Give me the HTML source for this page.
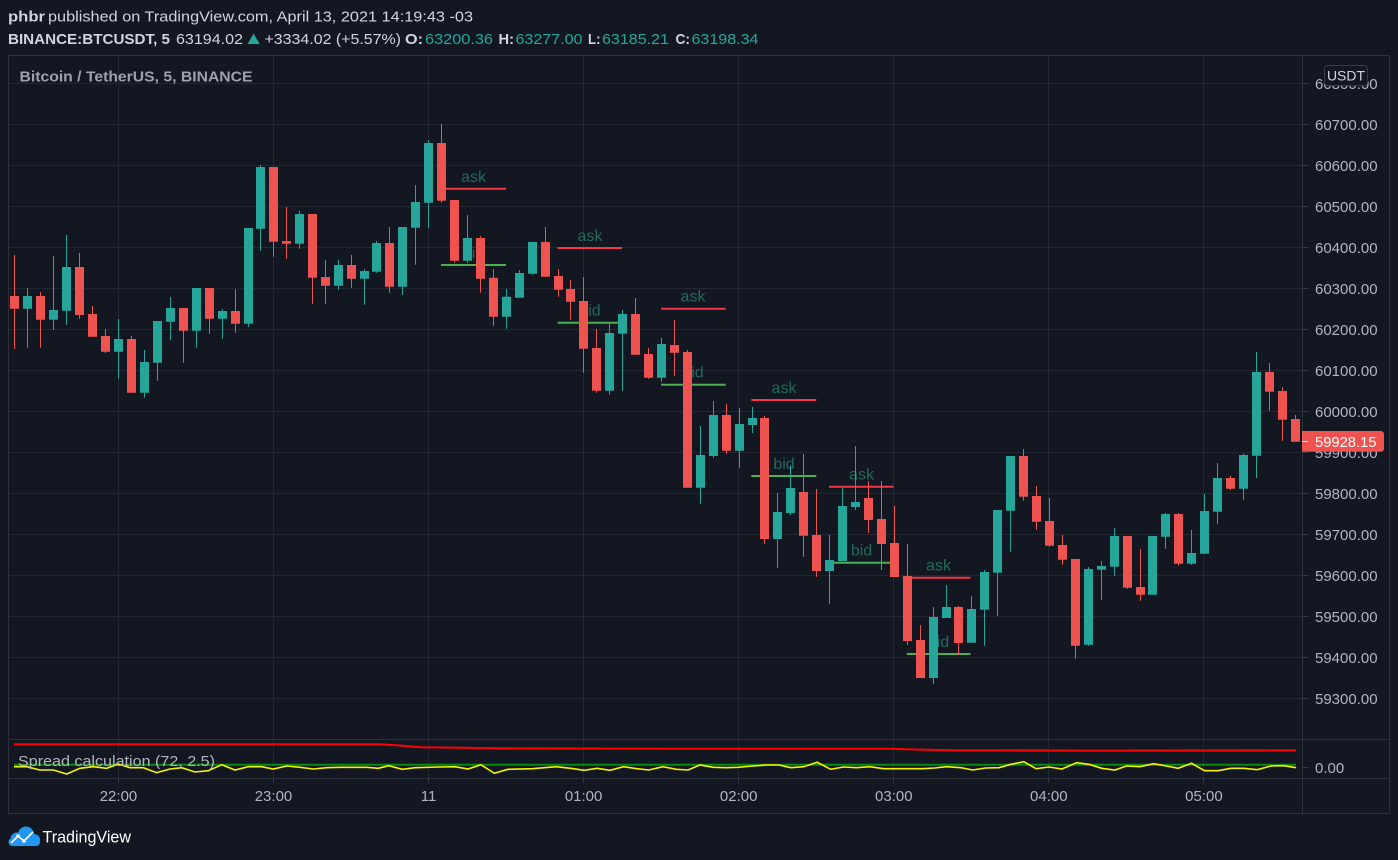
<!DOCTYPE html>
<html><head><meta charset="utf-8"><style>
html,body{margin:0;padding:0;background:#131722;}
svg{display:block;}
text{font-family:"Liberation Sans",sans-serif;}
</style></head><body>
<svg width="1398" height="860" viewBox="0 0 1398 860" xmlns="http://www.w3.org/2000/svg">
<rect x="0" y="0" width="1398" height="860" fill="#131722"/>

<!-- header -->
<g font-size="15" fill="#d1d4dc">
<text x="8" y="21.5" font-weight="bold" textLength="37" lengthAdjust="spacingAndGlyphs">phbr</text>
<text x="48" y="21.5" textLength="425" lengthAdjust="spacingAndGlyphs">published on TradingView.com, April 13, 2021 14:19:43 -03</text>
<text x="8" y="44" font-weight="bold" textLength="162" lengthAdjust="spacingAndGlyphs">BINANCE:BTCUSDT, 5</text>
<text x="176" y="44" textLength="67" lengthAdjust="spacingAndGlyphs">63194.02</text>
<text x="264.5" y="44" textLength="136.5" lengthAdjust="spacingAndGlyphs">+3334.02 (+5.57%)</text>
<text x="405" y="44" font-weight="bold" textLength="18" lengthAdjust="spacingAndGlyphs">O:</text>
<text x="498.5" y="44" font-weight="bold" textLength="15.5" lengthAdjust="spacingAndGlyphs">H:</text>
<text x="588" y="44" font-weight="bold" textLength="12.5" lengthAdjust="spacingAndGlyphs">L:</text>
<text x="675.5" y="44" font-weight="bold" textLength="14.5" lengthAdjust="spacingAndGlyphs">C:</text>
</g>
<g font-size="15" fill="#26a69a">
<text x="425" y="44" textLength="68" lengthAdjust="spacingAndGlyphs">63200.36</text>
<text x="515.5" y="44" textLength="67" lengthAdjust="spacingAndGlyphs">63277.00</text>
<text x="602" y="44" textLength="67" lengthAdjust="spacingAndGlyphs">63185.21</text>
<text x="691.5" y="44" textLength="67" lengthAdjust="spacingAndGlyphs">63198.34</text>
</g>
<polygon points="247.5,44 259.7,44 253.6,33.5" fill="#26a69a"/>

<!-- grid -->
<g stroke="#232733" stroke-width="1">
<path d="M8 83.5H1302M8 124.5H1302M8 165.5H1302M8 206.5H1302M8 247.5H1302M8 288.5H1302M8 329.5H1302M8 370.5H1302M8 411.5H1302M8 452.5H1302M8 493.5H1302M8 534.5H1302M8 575.5H1302M8 616.5H1302M8 657.5H1302M8 698.5H1302"/>
<path d="M118.5 55V778M273.5 55V778M428.5 55V778M583.5 55V778M738.5 55V778M893.5 55V778M1048.5 55V778M1203.5 55V778"/>
</g>
<g stroke="#363a45" stroke-width="1">
<path d="M1302 83.5H1308M1302 124.5H1308M1302 165.5H1308M1302 206.5H1308M1302 247.5H1308M1302 288.5H1308M1302 329.5H1308M1302 370.5H1308M1302 411.5H1308M1302 452.5H1308M1302 493.5H1308M1302 534.5H1308M1302 575.5H1308M1302 616.5H1308M1302 657.5H1308M1302 698.5H1308M1302 767.5H1308"/>
<path d="M118.5 778V783M273.5 778V783M428.5 778V783M583.5 778V783M738.5 778V783M893.5 778V783M1048.5 778V783M1203.5 778V783"/>
</g>
<g stroke="#2c303b" stroke-width="1" fill="none">
<rect x="8.5" y="55.5" width="1381" height="758"/>
<path d="M1302.5 55V813M8 739.5H1389M8 778.5H1389"/>
</g>

<text x="19.5" y="81.5" font-size="15" font-weight="bold" fill="#9ea1aa" textLength="233" lengthAdjust="spacingAndGlyphs">Bitcoin / TetherUS, 5, BINANCE</text>

<!-- ask/bid annotations -->
<g font-size="16" fill="#1f6b5d" text-anchor="middle">
<text x="473.5" y="182">ask</text><text x="473.5" y="258">bid</text>
<text x="590" y="241">ask</text><text x="590" y="315.5">bid</text>
<text x="693" y="301.5">ask</text><text x="693" y="377.5">bid</text>
<text x="784" y="393">ask</text><text x="784" y="469">bid</text>
<text x="861.5" y="479.5">ask</text><text x="861.5" y="555.5">bid</text>
<text x="938.5" y="570.5">ask</text><text x="938.5" y="647">bid</text>
</g>
<g stroke-width="2">
<path stroke="#f23645" d="M441 188.7H506M557.7 248H622M661 308.7H725.7M751.3 400H816.3M829 486.7H893.7M906.7 577.7H970.5"/>
<path stroke="#4caf50" d="M441 265H506M557.7 322.7H622M661 384.7H725.7M751.3 476H816.3M829 562.7H893.7M906.7 654H970.5"/>
</g>

<!-- down candles -->
<path stroke="#ef5350" stroke-width="1" fill="none" d="M14.5 255V349M40.5 292V347.7M79.5 253V318.7M92.5 306V336.7M105.5 329V353M131.5 336V392.7M183.5 308V362.7M209.5 288V333.7M235.5 289V332.7M273.5 167V256.7M286.5 207V258.7M312.5 214V303.7M325.5 260V303.7M351.5 255V287.7M389.5 227V292.7M441.5 124V202.7M454.5 200V262.7M480.5 236V292.7M493.5 269V325.7M545.5 227V276.7M558.5 269V296.7M570.5 280V319.7M583.5 277V372.7M596.5 329V392.7M635.5 298V354.7M648.5 348V378.7M674.5 320V375.7M687.5 350V487.7M726.5 404V453.7M764.5 416V543.7M803.5 454V556.7M816.5 489V576.7M868.5 481V533M881.5 481V570M894.5 506V577M907.5 544V645M920.5 625V678M958.5 606V655M1023.5 449V500.7M1036.5 486V529.7M1049.5 498V546.7M1062.5 535V564.7M1075.5 559V658.7M1127.5 536V588.7M1140.5 549V600.7M1178.5 513V565.7M1230.5 476V490M1269.5 363V410.7M1282.5 387V440.7M1295.5 415V441.7"/>
<path fill="#ef5350" d="M10 296h9V308.7h-9zM36 296h9V319.7h-9zM75 267h9V315h-9zM88 314h9V336.7h-9zM101 336h9V351.7h-9zM127 339h9V392.7h-9zM179 308h9V330.7h-9zM205 288h9V318.7h-9zM231 311h9V323.7h-9zM269 167h9V241.7h-9zM282 241h9V243.7h-9zM308 214h9V277.7h-9zM321 277h9V285.7h-9zM347 265h9V278.7h-9zM385 243h9V286.7h-9zM437 143h9V200.7h-9zM450 200h9V260.7h-9zM476 238h9V278.7h-9zM489 277.7h9V316.7h-9zM541 242h9V276.7h-9zM554 276h9V289.7h-9zM566 289h9V301.7h-9zM579 301h9V348.7h-9zM592 348h9V390.7h-9zM631 314h9V354.7h-9zM644 354h9V377.7h-9zM670 345h9V352.7h-9zM683 352h9V487.7h-9zM722 415h9V450.7h-9zM760 418h9V539h-9zM799 492h9V535.7h-9zM812 535h9V571h-9zM864 498h9V520h-9zM877 519h9V544h-9zM890 543h9V577h-9zM903 576h9V641h-9zM916 640h9V678h-9zM954 607h9V643h-9zM1019 456h9V496.7h-9zM1032 496h9V521.7h-9zM1045 521h9V545.7h-9zM1058 545h9V559.7h-9zM1071 559h9V645.7h-9zM1123 536h9V587.7h-9zM1136 587h9V594.7h-9zM1174 514h9V563.7h-9zM1226 478h9V488.7h-9zM1265 372h9V391.7h-9zM1278 391h9V419.7h-9zM1291 419h9V441.7h-9z"/>

<!-- up candles -->
<path stroke="#26a69a" stroke-width="1" fill="none" d="M27.5 288.3V347.7M53.5 256V330M66.5 235V324.7M118.5 319V378.7M144.5 350V397.7M157.5 321V380.7M170.5 297V340M196.5 288V347.7M222.5 309V338.7M248.5 228V326.7M260.5 165V250.7M299.5 211V248.7M338.5 260V289.7M364.5 269V304.7M376.5 241V272.7M402.5 227V294.7M415.5 185V264.7M428.5 140V227.7M467.5 215V262.7M506.5 288.7V328.7M519.5 270V297.7M532.5 242V274.7M609.5 324V394.7M622.5 310V390.7M661.5 338V381.7M700.5 426V503.7M713.5 401V457.7M739.5 408V467.7M752.5 407V433M777.5 493V567.7M790.5 465V515M829.5 535V603.7M842.5 488V561M855.5 446V510M933.5 607V684M946.5 585V618M971.5 596V642.7M984.5 570V645.7M997.5 510V615.7M1010.5 456V551.7M1088.5 567V645.7M1101.5 561V599.7M1114.5 528V575.7M1152.5 536V594.7M1165.5 513V548.7M1191.5 530V564.7M1204.5 494V553.7M1217.5 463V523.7M1243.5 453.7V500M1256.5 352V478"/>
<path fill="#26a69a" d="M23 296h9V308.7h-9zM49 310h9V319.7h-9zM62 267h9V310.7h-9zM114 339h9V351.7h-9zM140 362h9V392.7h-9zM153 321h9V362.7h-9zM166 308h9V321.7h-9zM192 288h9V330.7h-9zM218 311h9V318.7h-9zM244 228h9V323.7h-9zM256 167h9V228.7h-9zM295 214h9V243.7h-9zM334 265h9V285.7h-9zM360 271h9V278.7h-9zM372 243h9V271.7h-9zM398 227h9V286.7h-9zM411 202h9V227.7h-9zM424 143h9V202.7h-9zM463 238h9V260.7h-9zM502 296.7h9V316.7h-9zM515 273h9V297.7h-9zM528 242h9V273.7h-9zM605 333h9V390.7h-9zM618 314h9V333.7h-9zM657 344h9V377.7h-9zM696 455h9V487.7h-9zM709 415h9V456h-9zM735 424h9V450.7h-9zM748 418h9V425h-9zM773 512h9V539h-9zM786 488h9V513h-9zM825 560h9V571h-9zM838 506h9V561h-9zM851 502h9V507h-9zM929 617h9V678h-9zM942 607h9V618h-9zM967 609h9V642.7h-9zM980 572h9V609.7h-9zM993 510h9V572.7h-9zM1006 456h9V510.7h-9zM1084 569h9V644.7h-9zM1097 566h9V569.7h-9zM1110 536h9V566.7h-9zM1148 536h9V594.7h-9zM1161 514h9V536.7h-9zM1187 553h9V563.7h-9zM1200 511h9V553.7h-9zM1213 478h9V511.7h-9zM1239 455h9V488.7h-9zM1252 372h9V455.7h-9z"/>

<!-- indicator pane -->
<polyline fill="none" stroke="#ff0000" stroke-width="2" points="14,744.3 380,744.3 400,745.5 421,747.3 500,748.2 673,748.7 890,748.7 920,749.6 955,750.3 1100,750.6 1296,750.3"/>
<line x1="14" y1="764.7" x2="1296" y2="764.7" stroke="#0a8a0a" stroke-width="2"/>
<polyline fill="none" stroke="#f5f500" stroke-width="1.6" points="14,766.7 26.7,766.7 40,770 53.3,770 66.7,774 80,768.3 93.3,766.7 106.7,768.3 118.3,764 130,767.7 143.3,767.7 156.7,772.7 170,769 181.7,767.7 195,772 208.3,770.7 221.7,764.7 235,770 248.3,766.7 261.7,766.7 273.3,769 286.7,766 300,767.3 313.3,769 326.7,767.7 340,767.3 353.3,767.3 366.7,767.3 378.3,768.3 388.8,765.7 402.3,769.3 415.2,767.7 438.7,767 455.1,766.7 468,769 480.9,764.7 494.4,773.3 507.9,769.3 532.6,768.7 556,766.7 570.7,768.3 584.2,770.3 597.1,768.3 610,770.3 623.5,766.7 637,768.7 648.8,770 662.9,766.7 676.4,769.3 688.1,770 699.8,765 713.3,767.3 726.2,767.7 738,767.3 752.6,766 767.3,765 779.1,765 790.8,767.7 803.7,766.7 817.2,762.3 830.7,769.3 843.6,767 856.5,767.7 870,766.7 883.5,768.7 896.4,768.7 908.2,768.7 922.8,768.7 934.6,768 946.3,766.7 961,767.7 972.7,770 985.6,768 999.1,767.7 1010.9,764.3 1023.8,761.7 1036.1,768.7 1049,767 1061.9,769 1076.6,762.7 1088.9,764.3 1101.8,768.3 1114.8,770 1126.5,766 1140,766.7 1153.5,763.7 1166.4,766 1178.1,768.3 1191.6,763.3 1204.5,770.7 1218,770.7 1230.9,768.3 1243.8,768.3 1257.4,769.7 1270.8,766 1283.8,765.7 1296.1,767.7"/>
<text x="18" y="766" font-size="15" fill="#b2b5be" textLength="197" lengthAdjust="spacingAndGlyphs">Spread calculation (72, 2.5)</text>

<!-- price axis labels -->
<g font-size="15" fill="#b2b5be">
<text x="1315" y="89">60800.00</text>
<text x="1315" y="130">60700.00</text>
<text x="1315" y="171">60600.00</text>
<text x="1315" y="212">60500.00</text>
<text x="1315" y="253">60400.00</text>
<text x="1315" y="294">60300.00</text>
<text x="1315" y="335">60200.00</text>
<text x="1315" y="376">60100.00</text>
<text x="1315" y="417">60000.00</text>
<text x="1315" y="458">59900.00</text>
<text x="1315" y="499">59800.00</text>
<text x="1315" y="540">59700.00</text>
<text x="1315" y="581">59600.00</text>
<text x="1315" y="622">59500.00</text>
<text x="1315" y="663">59400.00</text>
<text x="1315" y="704">59300.00</text>
<text x="1315" y="773">0.00</text>
</g>
<rect x="1324.5" y="65.5" width="43" height="20" rx="3" fill="#131722" stroke="#363a45"/>
<text x="1346" y="80.5" font-size="14" fill="#d1d4dc" text-anchor="middle">USDT</text>

<path d="M1302 431h79a3 3 0 0 1 3 3v14.7a3 3 0 0 1 -3 3h-79z" fill="#ef5350"/>
<line x1="1302" y1="441.5" x2="1308" y2="441.5" stroke="#ffffff" stroke-width="1"/>
<text x="1315" y="447" font-size="15" fill="#ffffff" textLength="61.5" lengthAdjust="spacingAndGlyphs">59928.15</text>

<g font-size="15" fill="#b2b5be" text-anchor="middle">
<text x="118.5" y="801">22:00</text>
<text x="273.5" y="801">23:00</text>
<text x="428.6" y="801">11</text>
<text x="583.6" y="801">01:00</text>
<text x="738.7" y="801">02:00</text>
<text x="893.8" y="801">03:00</text>
<text x="1048.8" y="801">04:00</text>
<text x="1203.9" y="801">05:00</text>
</g>

<g fill="#2196f3">
<circle cx="17" cy="839" r="6.5"/>
<circle cx="26" cy="834.5" r="8"/>
<circle cx="34" cy="840" r="6"/>
<rect x="8.5" y="838" width="31.5" height="8" rx="4"/>
</g>
<polyline points="11,843 18,836 24,841 33,832" fill="none" stroke="#ffffff" stroke-width="1.6"/>
<circle cx="18" cy="836" r="1.8" fill="#ffffff"/>
<circle cx="24" cy="841" r="1.8" fill="#ffffff"/>
<text x="42.5" y="842.5" font-size="17" fill="#ffffff" textLength="88.5" lengthAdjust="spacingAndGlyphs">TradingView</text>
</svg>
</body></html>
